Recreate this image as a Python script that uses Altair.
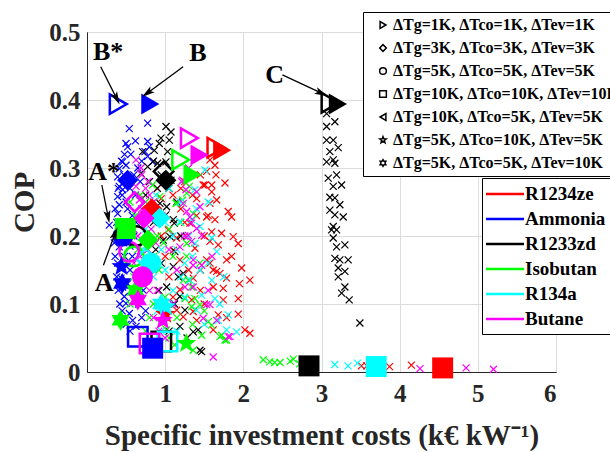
import math
import altair as alt
import pandas as pd

# ---------------- data ----------------
fluids = ["R1234ze", "Ammonia", "R1233zd", "Isobutan", "R134a", "Butane"]
fluid_colors = ["#ff0000", "#0000ff", "#000000", "#00ff00", "#00ffff", "#ff00ff"]

configs = [
    "ΔTg=1K, ΔTco=1K, ΔTev=1K",
    "ΔTg=3K, ΔTco=3K, ΔTev=3K",
    "ΔTg=5K, ΔTco=5K, ΔTev=5K",
    "ΔTg=10K, ΔTco=10K, ΔTev=10K",
    "ΔTg=10K, ΔTco=5K, ΔTev=5K",
    "ΔTg=5K, ΔTco=10K, ΔTev=5K",
    "ΔTg=5K, ΔTco=5K, ΔTev=10K",
]

# scatter of all evaluated designs (x = specific investment costs, y = COP)
r1234ze_pts = [
    (1.573, 0.312), (1.637, 0.304), (1.531, 0.295), (1.765, 0.278), (1.595, 0.275), (1.509, 0.275),
    (1.595, 0.265), (1.659, 0.253), (1.573, 0.248), (1.531, 0.228), (1.637, 0.224), (1.807, 0.236),
    (1.850, 0.228), (1.595, 0.206), (1.722, 0.204), (1.871, 0.199), (1.573, 0.192), (1.679, 0.187),
    (1.935, 0.189), (1.786, 0.165), (1.573, 0.160), (1.659, 0.148), (1.701, 0.145), (1.786, 0.138),
    (1.978, 0.153), (2.084, 0.135), (1.615, 0.125), (1.743, 0.123), (1.743, 0.106), (1.935, 0.108),
    (1.359, 0.089), (1.786, 0.080), (1.935, 0.085), (2.020, 0.062), (2.084, 0.057),
    (1.487, 0.275), (1.403, 0.255), (1.317, 0.219), (1.040, 0.209), (1.147, 0.197), (1.275, 0.199),
    (1.104, 0.179), (1.381, 0.182), (1.531, 0.165), (1.189, 0.165), (1.615, 0.150), (1.359, 0.138),
    (1.189, 0.121), (1.339, 0.106), (1.147, 0.091), (1.615, 0.062), (1.679, 0.084), (1.403, 0.076),
    (1.231, 0.081), (0.900, 0.270), (0.950, 0.255), (1.100, 0.260), (1.200, 0.240), (1.250, 0.280),
    (1.450, 0.290), (1.300, 0.150), (1.450, 0.120), (1.500, 0.200), (1.050, 0.140),
    (0.850, 0.230), (0.950, 0.200), (1.000, 0.170), (1.100, 0.110), (1.200, 0.270), (1.350, 0.260),
    (1.400, 0.230), (1.250, 0.220), (1.450, 0.150), (1.500, 0.100), (1.550, 0.230), (1.850, 0.170),
    (1.950, 0.130), (1.650, 0.290),
    (3.51, 0.009), (3.58, 0.009), (3.87, 0.008), (4.15, 0.010),
]
ammonia_pts = [
    (0.541, 0.358), (0.776, 0.366), (0.499, 0.336), (0.520, 0.331), (0.776, 0.339), (0.797, 0.331),
    (0.456, 0.309), (0.499, 0.304), (0.413, 0.299), (0.776, 0.317), (0.840, 0.309), (0.392, 0.287),
    (0.413, 0.273), (0.392, 0.258), (0.456, 0.268), (0.413, 0.246), (0.392, 0.233), (0.285, 0.216),
    (0.742, 0.324), (0.413, 0.184), (0.392, 0.160), (0.435, 0.138), (0.456, 0.125), (0.499, 0.101),
    (0.541, 0.086), (0.584, 0.076), (0.627, 0.067), (0.477, 0.111), (0.450, 0.220), (0.500, 0.250),
    (0.550, 0.270), (0.600, 0.290), (0.650, 0.300), (0.700, 0.310), (0.620, 0.260), (0.580, 0.230),
    (0.520, 0.210), (0.480, 0.170), (0.550, 0.150), (0.600, 0.120), (0.520, 0.130), (0.700, 0.080),
    (0.660, 0.100), (0.430, 0.210), (0.470, 0.290), (0.680, 0.280), (0.560, 0.320), (0.450, 0.260),
    (0.350, 0.190), (0.360, 0.170), (0.380, 0.140), (0.400, 0.120), (0.420, 0.100), (0.450, 0.090),
    (0.500, 0.070), (0.550, 0.060), (0.380, 0.220), (0.360, 0.240), (0.400, 0.270), (0.440, 0.310),
    (0.480, 0.320), (0.620, 0.340), (0.520, 0.240), (0.600, 0.200), (0.580, 0.170), (0.630, 0.220),
    (0.660, 0.140), (0.720, 0.120), (0.750, 0.090), (0.400, 0.200), (0.470, 0.190), (0.550, 0.185),
]
r1233zd_pts = [
    (1.010, 0.361), (1.074, 0.353), (0.946, 0.344), (0.925, 0.336), (1.053, 0.341), (0.712, 0.324),
    (0.861, 0.326), (1.031, 0.324), (0.904, 0.307), (1.010, 0.309), (0.776, 0.302), (0.690, 0.292),
    (1.074, 0.282), (1.010, 0.231), (1.116, 0.219), (0.933, 0.248), (1.019, 0.243), (1.104, 0.224),
    (1.061, 0.199), (0.976, 0.194), (1.125, 0.177), (1.168, 0.140), (1.019, 0.125), (1.189, 0.111),
    (1.104, 0.155), (1.359, 0.059), (1.445, 0.032), (1.189, 0.067), (1.231, 0.145), (1.253, 0.091),
    (1.423, 0.062), (1.467, 0.030), (0.900, 0.270), (0.850, 0.220), (1.150, 0.250), (0.950, 0.160),
    (0.750, 0.260), (0.800, 0.280), (0.850, 0.310), (0.950, 0.290), (1.050, 0.270), (0.880, 0.180),
    (0.920, 0.120), (0.980, 0.090), (1.050, 0.060), (1.120, 0.100), (1.200, 0.200), (0.800, 0.150),
    (1.280, 0.050),
    (3.065, 0.380), (3.171, 0.368), (3.065, 0.361), (3.065, 0.341), (3.150, 0.341), (3.214, 0.330),
    (3.107, 0.324), (3.065, 0.309), (3.150, 0.312), (3.171, 0.307), (3.086, 0.285), (3.193, 0.290),
    (3.150, 0.273), (3.257, 0.275), (3.107, 0.257), (3.171, 0.256), (3.235, 0.246), (3.107, 0.238),
    (3.171, 0.231), (3.278, 0.228), (3.150, 0.214), (3.193, 0.209), (3.129, 0.209), (3.150, 0.197),
    (3.193, 0.184), (3.299, 0.187), (3.171, 0.167), (3.235, 0.165), (3.341, 0.165), (3.214, 0.153),
    (3.299, 0.148), (3.214, 0.140), (3.299, 0.125), (3.257, 0.116), (3.354, 0.106), (3.491, 0.072),
]
isobutan_pts = [
    (1.275, 0.170), (1.296, 0.135), (1.339, 0.125), (1.253, 0.108), (1.381, 0.108), (1.445, 0.099),
    (1.551, 0.074), (1.595, 0.069), (1.722, 0.054), (1.765, 0.047), (1.467, 0.054), (1.359, 0.032),
    (1.147, 0.248), (1.275, 0.263), (1.359, 0.233), (1.275, 0.189), (1.445, 0.160), (1.231, 0.135),
    (1.339, 0.096), (1.701, 0.052), (1.786, 0.047), (1.019, 0.062), (0.933, 0.258), (0.840, 0.275),
    (1.308, 0.273), (1.224, 0.253), (1.138, 0.248), (0.700, 0.220), (0.750, 0.250), (0.650, 0.180),
    (0.900, 0.200), (1.050, 0.210), (1.100, 0.170), (0.850, 0.100), (1.000, 0.110), (1.150, 0.080),
    (0.600, 0.140), (0.550, 0.100),
    (0.550, 0.250), (0.620, 0.230), (0.680, 0.260), (0.800, 0.230), (0.850, 0.170), (0.920, 0.150),
    (0.980, 0.190), (0.700, 0.130), (0.750, 0.060), (0.800, 0.080), (0.950, 0.070), (1.050, 0.050),
    (1.120, 0.040), (1.200, 0.220), (1.350, 0.070), (1.500, 0.090), (0.500, 0.160),
    (2.255, 0.018), (2.340, 0.015), (2.400, 0.014), (2.470, 0.014), (2.600, 0.016), (2.640, 0.019),
    (2.720, 0.012),
]
r134a_pts = [
    (1.381, 0.268), (1.509, 0.297), (1.551, 0.250), (1.339, 0.224), (1.445, 0.214), (1.595, 0.197),
    (1.381, 0.189), (1.595, 0.135), (1.637, 0.108), (1.807, 0.084), (1.786, 0.062), (1.914, 0.059),
    (1.467, 0.113), (1.445, 0.150), (1.317, 0.135), (1.679, 0.076), (1.403, 0.091), (1.189, 0.221),
    (1.659, 0.177), (1.200, 0.250), (1.100, 0.200), (0.950, 0.180), (1.000, 0.150), (1.100, 0.120),
    (1.250, 0.160), (1.150, 0.060), (1.300, 0.200), (0.880, 0.260), (1.050, 0.270),
    (0.700, 0.180), (0.750, 0.210), (0.850, 0.140), (0.900, 0.090), (0.950, 0.060), (1.000, 0.220),
    (1.050, 0.100), (1.150, 0.180), (1.200, 0.140), (1.250, 0.110), (1.350, 0.170), (1.400, 0.240),
    (1.500, 0.070), (1.550, 0.160), (1.700, 0.100), (1.750, 0.140), (0.800, 0.240),
    (3.17, 0.011), (3.34, 0.009), (3.46, 0.013),
]
butane_pts = [
    (1.211, 0.280), (1.231, 0.248), (1.275, 0.236), (1.339, 0.219), (1.403, 0.211), (1.296, 0.201),
    (1.467, 0.201), (1.359, 0.157), (1.467, 0.157), (1.359, 0.125), (1.573, 0.099), (1.487, 0.079),
    (1.659, 0.076), (1.829, 0.052), (1.615, 0.022), (1.339, 0.192), (1.403, 0.265), (1.445, 0.243),
    (1.317, 0.228), (1.189, 0.184), (1.359, 0.165), (1.253, 0.125), (1.531, 0.099), (1.807, 0.052),
    (0.627, 0.312), (0.690, 0.300), (0.669, 0.253), (0.627, 0.273), (1.266, 0.268), (1.224, 0.282),
    (0.750, 0.270), (0.800, 0.260), (0.700, 0.240), (0.850, 0.250), (0.950, 0.230), (1.050, 0.180),
    (1.150, 0.150), (1.100, 0.100), (0.900, 0.120),
    (0.550, 0.220), (0.600, 0.210), (0.650, 0.200), (0.720, 0.190), (0.780, 0.180), (0.820, 0.210),
    (0.880, 0.190), (0.600, 0.160), (0.680, 0.170), (0.750, 0.140), (0.800, 0.120), (0.850, 0.080),
    (0.920, 0.060), (1.000, 0.050), (0.700, 0.290), (0.780, 0.280), (1.300, 0.300), (1.250, 0.200),
    (1.550, 0.120), (1.600, 0.170),
    (4.26, 0.005), (4.85, 0.006), (5.20, 0.004),
]

# highlighted designs: (fluid, config index, x, y, filled)
highlight_pts = [
    ("R1234ze", 0, 1.65, 0.330, False), ("R1234ze", 0, 1.73, 0.326, True),
    ("R1234ze", 1, 0.83, 0.240, True), ("R1234ze", 3, 4.55, 0.006, True),
    ("R1234ze", 5, 1.00, 0.085, True),
    ("Ammonia", 0, 0.40, 0.394, False), ("Ammonia", 0, 0.81, 0.394, True),
    ("Ammonia", 1, 0.52, 0.282, True), ("Ammonia", 2, 0.46, 0.200, True),
    ("Ammonia", 3, 0.65, 0.052, False), ("Ammonia", 3, 0.84, 0.035, True),
    ("Ammonia", 5, 0.44, 0.155, True), ("Ammonia", 6, 0.45, 0.130, True),
    ("R1233zd", 0, 3.11, 0.396, False), ("R1233zd", 0, 3.21, 0.394, True),
    ("R1233zd", 1, 0.98, 0.295, False), ("R1233zd", 1, 1.01, 0.282, True),
    ("R1233zd", 2, 0.63, 0.200, False), ("R1233zd", 3, 0.95, 0.045, False),
    ("R1233zd", 3, 2.84, 0.009, True),
    ("Isobutan", 0, 1.20, 0.312, False), ("Isobutan", 0, 1.35, 0.290, True),
    ("Isobutan", 1, 0.78, 0.194, True), ("Isobutan", 2, 0.60, 0.170, False),
    ("Isobutan", 3, 0.49, 0.211, True), ("Isobutan", 5, 1.27, 0.042, True),
    ("Isobutan", 6, 0.62, 0.120, True), ("Isobutan", 6, 0.43, 0.076, True),
    ("R134a", 1, 0.75, 0.167, False), ("R134a", 1, 0.93, 0.226, True),
    ("R134a", 2, 0.82, 0.160, True), ("R134a", 3, 1.03, 0.045, False),
    ("R134a", 3, 3.70, 0.008, True), ("R134a", 5, 1.01, 0.096, True),
    ("R134a", 6, 0.95, 0.100, True),
    ("Butane", 0, 1.31, 0.344, False), ("Butane", 0, 1.44, 0.319, True),
    ("Butane", 1, 0.61, 0.250, False), ("Butane", 1, 0.73, 0.226, True),
    ("Butane", 2, 0.54, 0.177, False), ("Butane", 2, 0.71, 0.140, True),
    ("Butane", 3, 0.80, 0.042, False), ("Butane", 5, 0.97, 0.076, True),
    ("Butane", 6, 0.65, 0.106, True),
]

# annotations
ann_text = ["B*", "B", "C", "A*", "A"]
ann_x = [0.27, 1.42, 2.40, 0.22, 0.22]
ann_y = [0.470, 0.469, 0.437, 0.294, 0.131]
arrow_x0 = [0.175, 1.23, 2.50, 0.19, 0.21]
arrow_y0 = [0.449, 0.449, 0.437, 0.275, 0.157]
arrow_x1 = [0.38, 0.77, 3.00, 0.27, 0.36]
arrow_y1 = [0.402, 0.410, 0.410, 0.228, 0.204]

# ---------------- build tables ----------------
W, H = 469, 340
X_MAX, Y_MAX = 6, 0.5

rows = []
for fl, pts in zip(fluids, [r1234ze_pts, ammonia_pts, r1233zd_pts, isobutan_pts, r134a_pts, butane_pts]):
    for x, y in pts:
        rows.append({"fluid": fl, "x": x, "y": y})
cross_df = pd.DataFrame(rows)

hl_df = pd.DataFrame(
    [{"fluid": f, "config": configs[c], "x": x, "y": y, "filled": int(fl)} for f, c, x, y, fl in highlight_pts]
)

ann_df = pd.DataFrame({"t": ann_text, "x": ann_x, "y": ann_y})
arr_df = pd.DataFrame({"x0": arrow_x0, "y0": arrow_y0, "x1": arrow_x1, "y1": arrow_y1})
arr_df["ang"] = [
    math.degrees(math.atan2((b - a) * W / X_MAX, (d - c) * H / Y_MAX)) % 360
    for a, b, c, d in zip(arrow_x0, arrow_x1, arrow_y0, arrow_y1)
]


def star_path(n, inner):
    pts = []
    for k in range(2 * n):
        r = 1.0 if k % 2 == 0 else inner
        a = -math.pi / 2 + k * math.pi / n
        pts.append(f"{r * math.cos(a):.3f},{r * math.sin(a):.3f}")
    return "M" + "L".join(pts) + "Z"


FONT = "Liberation Serif"
INK = "#262626"
CROSS = "M-1,-1L1,1M-1,1L1,-1"
STAR5 = star_path(5, 0.42)
HEXA = star_path(6, 0.58)
LINE = "M-2,0L2,0"
shape_range = ["triangle-right", "diamond", "circle", "square", "triangle-left", STAR5, HEXA]

xs = alt.Scale(domain=[0, X_MAX], nice=False, zero=True)
ys = alt.Scale(domain=[0, Y_MAX], nice=False, zero=True)

xenc = alt.X("x:Q", scale=xs, title="Specific investment costs (k€ kW⁻¹)",
             axis=alt.Axis(values=[0, 1, 2, 3, 4, 5, 6], format="d"))
yenc = alt.Y("y:Q", scale=ys, title="COP",
             axis=alt.Axis(values=[0, 0.1, 0.2, 0.3, 0.4, 0.5], format=".1~f"))

color_enc = alt.Color(
    "fluid:N",
    scale=alt.Scale(domain=fluids, range=fluid_colors),
    legend=alt.Legend(
        title=None, orient="none", legendX=395, legendY=146, symbolType=LINE,
        symbolSize=361, symbolStrokeWidth=2.5, symbolOffset=7, labelFontSize=19, labelFont=FONT,
        labelFontWeight="bold", labelColor="black", strokeColor="black", fillColor="white",
        padding=5, rowPadding=4, labelOffset=9,
    ),
)
shape_enc = alt.Shape(
    "config:N",
    scale=alt.Scale(domain=configs, range=shape_range),
    legend=alt.Legend(
        title=None, orient="none", legendX=276, legendY=-20, symbolSize=45,
        symbolFillColor="black", symbolStrokeColor="black", symbolStrokeWidth=1.5,
        symbolOffset=7, labelFontSize=16, labelFont=FONT, labelFontWeight="bold",
        labelColor="black", strokeColor="black", fillColor="white", padding=5,
        rowPadding=7, labelOffset=2, labelLimit=400,
    ),
)

crosses = alt.Chart(cross_df).mark_point(
    shape=CROSS, filled=False, size=49, strokeWidth=1.2, opacity=1
).encode(x=xenc, y=yenc, color=color_enc)

hollow = alt.Chart(hl_df).transform_filter("datum.filled == 0").mark_point(
    filled=False, size=380, strokeWidth=2.5, opacity=1
).encode(x="x:Q", y="y:Q", color=alt.Color("fluid:N"), shape=shape_enc)

solid = alt.Chart(hl_df).transform_filter("datum.filled == 1").mark_point(
    filled=True, size=440, opacity=1
).encode(x="x:Q", y="y:Q", color=alt.Color("fluid:N"), shape=shape_enc)

arrows = alt.Chart(arr_df).mark_rule(color="black", strokeWidth=1.3).encode(
    x="x0:Q", y="y0:Q", x2="x1:Q", y2="y1:Q"
)
heads = alt.Chart(arr_df).mark_point(
    shape="M0,-1L0.55,1L0,0.55L-0.55,1Z", filled=True, color="black", size=170, opacity=1
).encode(x="x1:Q", y="y1:Q", angle=alt.Angle("ang:Q", scale=None))

labels = alt.Chart(ann_df).mark_text(
    font=FONT, fontWeight="bold", fontSize=26, color="black"
).encode(x="x:Q", y="y:Q", text="t:N")

chart = (
    alt.layer(crosses, hollow, solid, arrows, heads, labels)
    .properties(width=W, height=H, autosize=alt.AutoSizeParams(type="none"),
                padding={"left": 87, "top": 32, "right": 54, "bottom": 81})
    .configure_view(stroke=INK, strokeWidth=1)
    .configure_axis(
        labelFont=FONT, labelFontWeight="bold", labelFontSize=25, labelColor=INK,
        titleFont=FONT, titleFontWeight="bold", titleFontSize=29, titleColor=INK,
        grid=True, gridColor="#dcdcdc", gridWidth=1, ticks=False,
        domainColor=INK, domainWidth=1,
    )
    .configure_axisX(labelPadding=9, titlePadding=15)
    .configure_axisY(labelPadding=7, titlePadding=9)
)

chart.save("out.html", embed_options={"renderer": "svg", "actions": False})
